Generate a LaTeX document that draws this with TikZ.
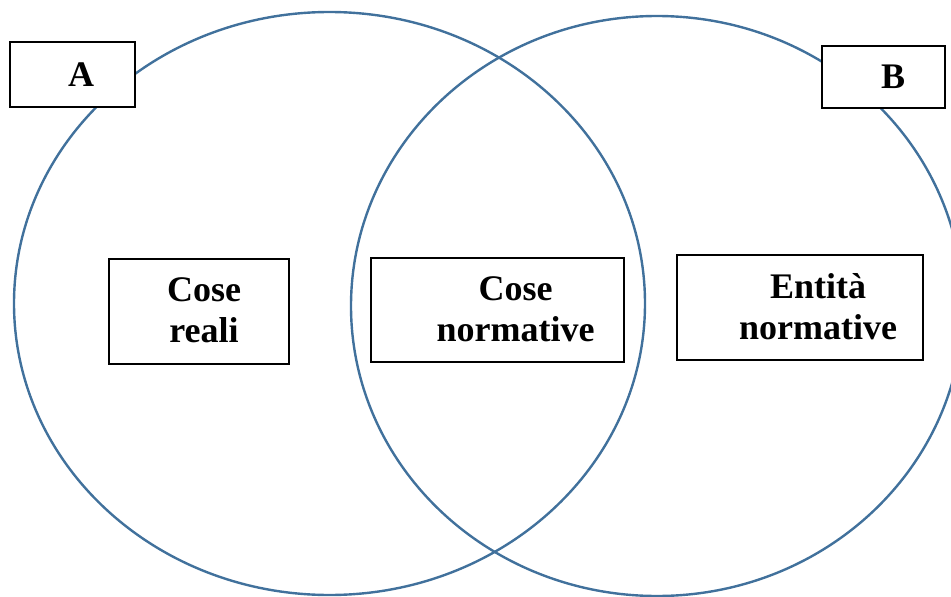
\documentclass[tikz,border=0pt]{standalone}
\usepackage{fontspec}
\setmainfont{Liberation Serif}
\definecolor{circblue}{RGB}{65,113,156}
\begin{document}
\begin{tikzpicture}[x=1pt,y=-1pt,
  ring/.style={draw=circblue, line width=2.4pt},
  box/.style={draw=black, line width=1.5pt, fill=white, inner sep=0pt},
  lbl/.style={font=\fontsize{36}{41}\selectfont\bfseries, align=center, inner sep=0pt}]
\useasboundingbox (0,0) rectangle (951,597);
\clip (0,0) rectangle (951,597);
\draw[ring] (329.5,303.5) ellipse [x radius=315.5, y radius=291.5];
\draw[ring] (657,306) ellipse [x radius=306, y radius=290];
\node[box, minimum width=125pt, minimum height=65pt] (boxA) at (72.5,74.5) {};
\node[lbl] (labA) at ([xshift=8.5pt]boxA.center) {A};
\node[box, minimum width=123pt, minimum height=62pt] (boxB) at (883.5,77) {};
\node[lbl] (labB) at ([xshift=9.5pt]boxB.center) {B};
\node[box, minimum width=180pt, minimum height=105pt] (boxR) at (199,311.5) {};
\node[lbl] (labR) at ([xshift=5pt,yshift=1.5pt]boxR.center) {Cose\\reali};
\node[box, minimum width=253pt, minimum height=104pt] (boxN) at (497.5,310) {};
\node[lbl] (labN) at ([xshift=18pt,yshift=1pt]boxN.center) {Cose\\normative};
\node[box, minimum width=246pt, minimum height=105pt] (boxE) at (800,307.5) {};
\node[lbl] (labE) at ([xshift=18pt,yshift=1pt]boxE.center) {Entità\\normative};
\end{tikzpicture}
\end{document}
